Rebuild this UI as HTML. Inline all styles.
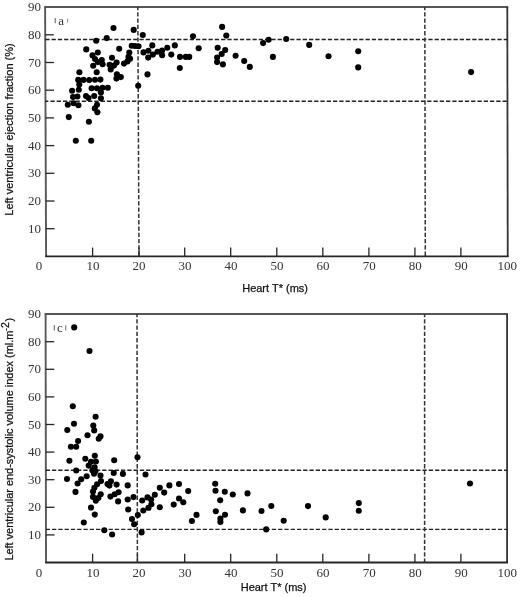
<!DOCTYPE html>
<html><head><meta charset="utf-8"><style>
html,body{margin:0;padding:0;background:#fff;}
body{width:520px;height:597px;overflow:hidden;}
svg{display:block;will-change:transform;}
.tk{font-family:"Liberation Serif",serif;font-size:13px;fill:#333;}
.at{font-family:"Liberation Sans",sans-serif;font-size:11px;fill:#111;stroke:#111;stroke-width:0.25px;}
.lb{font-family:"Liberation Serif",serif;font-size:13px;fill:#333;}
</style></head><body>
<svg width="520" height="597" viewBox="0 0 520 597">
<rect width="520" height="597" fill="#fff"/>

<line x1="44.2" y1="7.1" x2="508.2" y2="7.1" stroke="#555" stroke-width="2"/>
<line x1="45.1" y1="7.1" x2="46.1" y2="256.4" stroke="#585858" stroke-width="1.9"/>
<line x1="507.3" y1="7.1" x2="507.75" y2="256.4" stroke="#333" stroke-width="1.8"/>
<line x1="45.2" y1="256.4" x2="508.65" y2="256.4" stroke="#262626" stroke-width="1.8"/>
<line x1="45.99" y1="228.7" x2="54.59" y2="228.7" stroke="#262626" stroke-width="1.3"/>
<line x1="45.88" y1="201.0" x2="54.48" y2="201.0" stroke="#262626" stroke-width="1.3"/>
<line x1="45.77" y1="173.3" x2="54.37" y2="173.3" stroke="#262626" stroke-width="1.3"/>
<line x1="45.66" y1="145.6" x2="54.26" y2="145.6" stroke="#262626" stroke-width="1.3"/>
<line x1="45.54" y1="117.9" x2="54.14" y2="117.9" stroke="#262626" stroke-width="1.3"/>
<line x1="45.43" y1="90.2" x2="54.03" y2="90.2" stroke="#262626" stroke-width="1.3"/>
<line x1="45.32" y1="62.5" x2="53.92" y2="62.5" stroke="#262626" stroke-width="1.3"/>
<line x1="45.21" y1="34.8" x2="53.81" y2="34.8" stroke="#262626" stroke-width="1.3"/>
<line x1="92.6" y1="256.4" x2="92.6" y2="247.59999999999997" stroke="#262626" stroke-width="1.3"/>
<line x1="139.0" y1="256.4" x2="139.0" y2="247.59999999999997" stroke="#262626" stroke-width="1.3"/>
<line x1="184.7" y1="256.4" x2="184.7" y2="247.59999999999997" stroke="#262626" stroke-width="1.3"/>
<line x1="230.7" y1="256.4" x2="230.7" y2="247.59999999999997" stroke="#262626" stroke-width="1.3"/>
<line x1="276.8" y1="256.4" x2="276.8" y2="247.59999999999997" stroke="#262626" stroke-width="1.3"/>
<line x1="322.8" y1="256.4" x2="322.8" y2="247.59999999999997" stroke="#262626" stroke-width="1.3"/>
<line x1="368.9" y1="256.4" x2="368.9" y2="247.59999999999997" stroke="#262626" stroke-width="1.3"/>
<line x1="414.9" y1="256.4" x2="414.9" y2="247.59999999999997" stroke="#262626" stroke-width="1.3"/>
<line x1="460.9" y1="256.4" x2="460.9" y2="247.59999999999997" stroke="#262626" stroke-width="1.3"/>
<line x1="45.23" y1="39.5" x2="507.3" y2="39.5" stroke="#222" stroke-width="1.4" stroke-dasharray="4.3 1.98" stroke-dashoffset="0"/>
<line x1="45.48" y1="101.3" x2="507.3" y2="101.3" stroke="#222" stroke-width="1.4" stroke-dasharray="4.3 1.98" stroke-dashoffset="1.39"/>
<line x1="137.8" y1="7.1" x2="139.0" y2="256.4" stroke="#333" stroke-width="1.5" stroke-dasharray="4.3 2.0" stroke-dashoffset="1.2"/>
<line x1="424.8" y1="7.1" x2="425.3" y2="256.4" stroke="#333" stroke-width="1.5" stroke-dasharray="4.3 2.0" stroke-dashoffset="1.2"/>
<text x="41.0" y="232.7" text-anchor="end" class="tk">10</text>
<text x="41.0" y="205.0" text-anchor="end" class="tk">20</text>
<text x="41.0" y="177.3" text-anchor="end" class="tk">30</text>
<text x="41.0" y="149.6" text-anchor="end" class="tk">40</text>
<text x="41.0" y="121.9" text-anchor="end" class="tk">50</text>
<text x="41.0" y="94.2" text-anchor="end" class="tk">60</text>
<text x="41.0" y="66.5" text-anchor="end" class="tk">70</text>
<text x="41.0" y="38.8" text-anchor="end" class="tk">80</text>
<text x="41.0" y="11.1" text-anchor="end" class="tk">90</text>
<text x="39.1" y="270.4" text-anchor="middle" class="tk">0</text>
<text x="92.9" y="270.4" text-anchor="middle" class="tk">10</text>
<text x="139.0" y="270.4" text-anchor="middle" class="tk">20</text>
<text x="185.0" y="270.4" text-anchor="middle" class="tk">30</text>
<text x="231.0" y="270.4" text-anchor="middle" class="tk">40</text>
<text x="277.1" y="270.4" text-anchor="middle" class="tk">50</text>
<text x="323.1" y="270.4" text-anchor="middle" class="tk">60</text>
<text x="369.2" y="270.4" text-anchor="middle" class="tk">70</text>
<text x="415.2" y="270.4" text-anchor="middle" class="tk">80</text>
<text x="461.2" y="270.4" text-anchor="middle" class="tk">90</text>
<text x="507.3" y="270.4" text-anchor="middle" class="tk">100</text>
<circle cx="96.2" cy="40.8" r="3.05"/>
<circle cx="86.25" cy="49.4" r="3.05"/>
<circle cx="97.8" cy="52.5" r="3.05"/>
<circle cx="92.5" cy="55.4" r="3.05"/>
<circle cx="95.0" cy="59.0" r="3.05"/>
<circle cx="101.8" cy="60.0" r="3.05"/>
<circle cx="97.8" cy="62.1" r="3.05"/>
<circle cx="93.2" cy="65.8" r="3.05"/>
<circle cx="102.6" cy="64.3" r="3.05"/>
<circle cx="96.7" cy="72.2" r="3.05"/>
<circle cx="79.4" cy="72.2" r="3.05"/>
<circle cx="78.2" cy="79.9" r="3.05"/>
<circle cx="83.5" cy="79.9" r="3.05"/>
<circle cx="89.2" cy="80.0" r="3.05"/>
<circle cx="95.0" cy="79.8" r="3.05"/>
<circle cx="100.4" cy="79.6" r="3.05"/>
<circle cx="79.3" cy="84.5" r="3.05"/>
<circle cx="78.8" cy="89.8" r="3.05"/>
<circle cx="72.1" cy="90.8" r="3.05"/>
<circle cx="91.6" cy="88.3" r="3.05"/>
<circle cx="97.0" cy="88.3" r="3.05"/>
<circle cx="102.5" cy="87.7" r="3.05"/>
<circle cx="107.8" cy="87.7" r="3.05"/>
<circle cx="100.9" cy="92.4" r="3.05"/>
<circle cx="73.0" cy="97.0" r="3.05"/>
<circle cx="77.4" cy="96.5" r="3.05"/>
<circle cx="86.0" cy="96.0" r="3.05"/>
<circle cx="88.5" cy="98.0" r="3.05"/>
<circle cx="94.2" cy="96.0" r="3.05"/>
<circle cx="100.9" cy="98.2" r="3.05"/>
<circle cx="67.8" cy="104.7" r="3.05"/>
<circle cx="73.6" cy="103.3" r="3.05"/>
<circle cx="78.4" cy="105.2" r="3.05"/>
<circle cx="97.0" cy="104.8" r="3.05"/>
<circle cx="94.8" cy="108.4" r="3.05"/>
<circle cx="97.4" cy="112.2" r="3.05"/>
<circle cx="68.75" cy="117.1" r="3.05"/>
<circle cx="88.9" cy="121.7" r="3.05"/>
<circle cx="75.8" cy="140.7" r="3.05"/>
<circle cx="91.2" cy="140.7" r="3.05"/>
<circle cx="113.5" cy="28.0" r="3.05"/>
<circle cx="133.7" cy="29.9" r="3.05"/>
<circle cx="142.8" cy="35.0" r="3.05"/>
<circle cx="106.7" cy="38.1" r="3.05"/>
<circle cx="131.7" cy="45.8" r="3.05"/>
<circle cx="135.0" cy="46.0" r="3.05"/>
<circle cx="138.5" cy="46.3" r="3.05"/>
<circle cx="119.2" cy="48.7" r="3.05"/>
<circle cx="129.3" cy="52.5" r="3.05"/>
<circle cx="143.5" cy="52.4" r="3.05"/>
<circle cx="148.4" cy="50.8" r="3.05"/>
<circle cx="112.0" cy="57.8" r="3.05"/>
<circle cx="130.1" cy="58.8" r="3.05"/>
<circle cx="128.5" cy="56.9" r="3.05"/>
<circle cx="127.5" cy="61.4" r="3.05"/>
<circle cx="124.0" cy="63.6" r="3.05"/>
<circle cx="116.6" cy="62.6" r="3.05"/>
<circle cx="109.6" cy="64.8" r="3.05"/>
<circle cx="114.0" cy="65.6" r="3.05"/>
<circle cx="110.7" cy="69.4" r="3.05"/>
<circle cx="116.9" cy="74.2" r="3.05"/>
<circle cx="120.8" cy="77.1" r="3.05"/>
<circle cx="116.4" cy="78.6" r="3.05"/>
<circle cx="148.2" cy="57.6" r="3.05"/>
<circle cx="152.3" cy="45.4" r="3.05"/>
<circle cx="174.8" cy="45.4" r="3.05"/>
<circle cx="167.3" cy="47.7" r="3.05"/>
<circle cx="152.9" cy="54.6" r="3.05"/>
<circle cx="157.5" cy="51.7" r="3.05"/>
<circle cx="162.1" cy="50.6" r="3.05"/>
<circle cx="162.1" cy="55.2" r="3.05"/>
<circle cx="171.3" cy="54.6" r="3.05"/>
<circle cx="180.0" cy="56.9" r="3.05"/>
<circle cx="185.8" cy="56.9" r="3.05"/>
<circle cx="189.2" cy="56.9" r="3.05"/>
<circle cx="179.8" cy="68.0" r="3.05"/>
<circle cx="147.5" cy="74.4" r="3.05"/>
<circle cx="138.2" cy="85.8" r="3.05"/>
<circle cx="193.0" cy="36.2" r="3.05"/>
<circle cx="222.1" cy="26.9" r="3.05"/>
<circle cx="226.3" cy="35.6" r="3.05"/>
<circle cx="198.7" cy="48.3" r="3.05"/>
<circle cx="217.7" cy="47.7" r="3.05"/>
<circle cx="225.2" cy="50.0" r="3.05"/>
<circle cx="221.7" cy="54.0" r="3.05"/>
<circle cx="217.1" cy="57.5" r="3.05"/>
<circle cx="217.1" cy="62.1" r="3.05"/>
<circle cx="222.9" cy="64.4" r="3.05"/>
<circle cx="235.6" cy="55.8" r="3.05"/>
<circle cx="244.2" cy="61.0" r="3.05"/>
<circle cx="249.8" cy="66.9" r="3.05"/>
<circle cx="263.1" cy="43.1" r="3.05"/>
<circle cx="268.6" cy="39.8" r="3.05"/>
<circle cx="286.2" cy="39.0" r="3.05"/>
<circle cx="272.9" cy="56.9" r="3.05"/>
<circle cx="309.2" cy="44.9" r="3.05"/>
<circle cx="328.5" cy="56.2" r="3.05"/>
<circle cx="358.2" cy="51.2" r="3.05"/>
<circle cx="358.2" cy="67.4" r="3.05"/>
<circle cx="471.1" cy="72.1" r="3.05"/>
<line x1="44.7" y1="314.1" x2="508.0" y2="314.1" stroke="#555" stroke-width="2"/>
<line x1="45.6" y1="314.1" x2="46.0" y2="562.5" stroke="#585858" stroke-width="1.9"/>
<line x1="507.1" y1="314.1" x2="507.1" y2="562.5" stroke="#333" stroke-width="1.8"/>
<line x1="45.1" y1="562.5" x2="508.0" y2="562.5" stroke="#262626" stroke-width="1.8"/>
<line x1="45.96" y1="534.9" x2="54.56" y2="534.9" stroke="#262626" stroke-width="1.3"/>
<line x1="45.91" y1="507.3" x2="54.51" y2="507.3" stroke="#262626" stroke-width="1.3"/>
<line x1="45.87" y1="479.7" x2="54.47" y2="479.7" stroke="#262626" stroke-width="1.3"/>
<line x1="45.82" y1="452.1" x2="54.42" y2="452.1" stroke="#262626" stroke-width="1.3"/>
<line x1="45.78" y1="424.5" x2="54.38" y2="424.5" stroke="#262626" stroke-width="1.3"/>
<line x1="45.73" y1="396.9" x2="54.33" y2="396.9" stroke="#262626" stroke-width="1.3"/>
<line x1="45.69" y1="369.3" x2="54.29" y2="369.3" stroke="#262626" stroke-width="1.3"/>
<line x1="45.64" y1="341.7" x2="54.24" y2="341.7" stroke="#262626" stroke-width="1.3"/>
<line x1="92.6" y1="562.5" x2="92.6" y2="553.7" stroke="#262626" stroke-width="1.3"/>
<line x1="137.4" y1="562.5" x2="137.4" y2="553.7" stroke="#262626" stroke-width="1.3"/>
<line x1="184.7" y1="562.5" x2="184.7" y2="553.7" stroke="#262626" stroke-width="1.3"/>
<line x1="230.7" y1="562.5" x2="230.7" y2="553.7" stroke="#262626" stroke-width="1.3"/>
<line x1="276.8" y1="562.5" x2="276.8" y2="553.7" stroke="#262626" stroke-width="1.3"/>
<line x1="322.8" y1="562.5" x2="322.8" y2="553.7" stroke="#262626" stroke-width="1.3"/>
<line x1="368.9" y1="562.5" x2="368.9" y2="553.7" stroke="#262626" stroke-width="1.3"/>
<line x1="414.9" y1="562.5" x2="414.9" y2="553.7" stroke="#262626" stroke-width="1.3"/>
<line x1="460.9" y1="562.5" x2="460.9" y2="553.7" stroke="#262626" stroke-width="1.3"/>
<line x1="45.85" y1="470.3" x2="507.1" y2="470.3" stroke="#222" stroke-width="1.4" stroke-dasharray="4.3 1.98" stroke-dashoffset="0.2"/>
<line x1="45.95" y1="529.4" x2="507.1" y2="529.4" stroke="#222" stroke-width="1.4" stroke-dasharray="4.3 1.98" stroke-dashoffset="0.2"/>
<line x1="137.0" y1="314.1" x2="137.4" y2="562.5" stroke="#333" stroke-width="1.5" stroke-dasharray="4.3 2.0" stroke-dashoffset="1.2"/>
<line x1="424.6" y1="314.1" x2="424.6" y2="562.5" stroke="#333" stroke-width="1.5" stroke-dasharray="4.3 2.0" stroke-dashoffset="1.2"/>
<text x="41.0" y="538.9" text-anchor="end" class="tk">10</text>
<text x="41.0" y="511.3" text-anchor="end" class="tk">20</text>
<text x="41.0" y="483.7" text-anchor="end" class="tk">30</text>
<text x="41.0" y="456.1" text-anchor="end" class="tk">40</text>
<text x="41.0" y="428.5" text-anchor="end" class="tk">50</text>
<text x="41.0" y="400.9" text-anchor="end" class="tk">60</text>
<text x="41.0" y="373.3" text-anchor="end" class="tk">70</text>
<text x="41.0" y="345.7" text-anchor="end" class="tk">80</text>
<text x="41.0" y="318.1" text-anchor="end" class="tk">90</text>
<text x="39.1" y="577.2" text-anchor="middle" class="tk">0</text>
<text x="92.9" y="577.2" text-anchor="middle" class="tk">10</text>
<text x="139.0" y="577.2" text-anchor="middle" class="tk">20</text>
<text x="185.0" y="577.2" text-anchor="middle" class="tk">30</text>
<text x="231.0" y="577.2" text-anchor="middle" class="tk">40</text>
<text x="277.1" y="577.2" text-anchor="middle" class="tk">50</text>
<text x="323.1" y="577.2" text-anchor="middle" class="tk">60</text>
<text x="369.2" y="577.2" text-anchor="middle" class="tk">70</text>
<text x="415.2" y="577.2" text-anchor="middle" class="tk">80</text>
<text x="461.2" y="577.2" text-anchor="middle" class="tk">90</text>
<text x="507.3" y="577.2" text-anchor="middle" class="tk">100</text>
<circle cx="74.2" cy="327.4" r="3.05"/>
<circle cx="89.5" cy="351.0" r="3.05"/>
<circle cx="72.8" cy="406.3" r="3.05"/>
<circle cx="95.6" cy="416.7" r="3.05"/>
<circle cx="74.0" cy="423.8" r="3.05"/>
<circle cx="67.3" cy="430.0" r="3.05"/>
<circle cx="93.3" cy="425.6" r="3.05"/>
<circle cx="94.2" cy="430.4" r="3.05"/>
<circle cx="87.5" cy="435.2" r="3.05"/>
<circle cx="100.5" cy="436.4" r="3.05"/>
<circle cx="98.75" cy="438.7" r="3.05"/>
<circle cx="78.1" cy="441.0" r="3.05"/>
<circle cx="70.9" cy="446.8" r="3.05"/>
<circle cx="76.2" cy="446.8" r="3.05"/>
<circle cx="94.8" cy="455.8" r="3.05"/>
<circle cx="85.3" cy="458.8" r="3.05"/>
<circle cx="69.4" cy="460.8" r="3.05"/>
<circle cx="95.9" cy="461.5" r="3.05"/>
<circle cx="91.0" cy="461.7" r="3.05"/>
<circle cx="88.7" cy="465.6" r="3.05"/>
<circle cx="94.6" cy="467.3" r="3.05"/>
<circle cx="76.2" cy="470.5" r="3.05"/>
<circle cx="92.5" cy="470.4" r="3.05"/>
<circle cx="95.4" cy="471.3" r="3.05"/>
<circle cx="94.0" cy="473.8" r="3.05"/>
<circle cx="100.5" cy="475.5" r="3.05"/>
<circle cx="86.7" cy="476.2" r="3.05"/>
<circle cx="81.2" cy="479.3" r="3.05"/>
<circle cx="67.0" cy="479.0" r="3.05"/>
<circle cx="77.6" cy="483.5" r="3.05"/>
<circle cx="101.0" cy="481.0" r="3.05"/>
<circle cx="97.1" cy="484.2" r="3.05"/>
<circle cx="94.4" cy="487.8" r="3.05"/>
<circle cx="93.0" cy="491.6" r="3.05"/>
<circle cx="100.7" cy="494.3" r="3.05"/>
<circle cx="98.3" cy="498.0" r="3.05"/>
<circle cx="93.0" cy="496.9" r="3.05"/>
<circle cx="95.8" cy="500.8" r="3.05"/>
<circle cx="75.5" cy="491.9" r="3.05"/>
<circle cx="91.0" cy="507.5" r="3.05"/>
<circle cx="94.8" cy="514.6" r="3.05"/>
<circle cx="83.8" cy="522.5" r="3.05"/>
<circle cx="104.3" cy="530.2" r="3.05"/>
<circle cx="114.2" cy="460.2" r="3.05"/>
<circle cx="137.5" cy="457.3" r="3.05"/>
<circle cx="113.75" cy="473.0" r="3.05"/>
<circle cx="122.9" cy="473.9" r="3.05"/>
<circle cx="107.5" cy="484.1" r="3.05"/>
<circle cx="110.9" cy="481.3" r="3.05"/>
<circle cx="109.4" cy="485.6" r="3.05"/>
<circle cx="116.6" cy="484.6" r="3.05"/>
<circle cx="127.7" cy="485.4" r="3.05"/>
<circle cx="110.4" cy="496.6" r="3.05"/>
<circle cx="114.7" cy="494.2" r="3.05"/>
<circle cx="118.6" cy="492.3" r="3.05"/>
<circle cx="118.1" cy="501.4" r="3.05"/>
<circle cx="127.7" cy="499.5" r="3.05"/>
<circle cx="133.5" cy="497.1" r="3.05"/>
<circle cx="142.2" cy="500.5" r="3.05"/>
<circle cx="128.2" cy="509.5" r="3.05"/>
<circle cx="143.3" cy="510.5" r="3.05"/>
<circle cx="137.8" cy="515.1" r="3.05"/>
<circle cx="132.0" cy="519.1" r="3.05"/>
<circle cx="134.2" cy="524.2" r="3.05"/>
<circle cx="112.1" cy="534.5" r="3.05"/>
<circle cx="141.6" cy="532.4" r="3.05"/>
<circle cx="145.5" cy="474.5" r="3.05"/>
<circle cx="159.8" cy="487.7" r="3.05"/>
<circle cx="169.4" cy="485.4" r="3.05"/>
<circle cx="179.0" cy="484.0" r="3.05"/>
<circle cx="188.2" cy="491.0" r="3.05"/>
<circle cx="164.2" cy="492.6" r="3.05"/>
<circle cx="154.8" cy="494.8" r="3.05"/>
<circle cx="147.5" cy="497.4" r="3.05"/>
<circle cx="151.1" cy="499.5" r="3.05"/>
<circle cx="151.4" cy="504.2" r="3.05"/>
<circle cx="148.5" cy="507.8" r="3.05"/>
<circle cx="159.8" cy="507.2" r="3.05"/>
<circle cx="173.7" cy="504.6" r="3.05"/>
<circle cx="179.0" cy="498.5" r="3.05"/>
<circle cx="183.3" cy="502.3" r="3.05"/>
<circle cx="196.5" cy="514.9" r="3.05"/>
<circle cx="191.9" cy="521.0" r="3.05"/>
<circle cx="215.2" cy="483.8" r="3.05"/>
<circle cx="215.5" cy="490.8" r="3.05"/>
<circle cx="224.8" cy="491.7" r="3.05"/>
<circle cx="232.8" cy="494.5" r="3.05"/>
<circle cx="247.5" cy="493.4" r="3.05"/>
<circle cx="220.2" cy="500.2" r="3.05"/>
<circle cx="215.8" cy="511.3" r="3.05"/>
<circle cx="225.0" cy="514.8" r="3.05"/>
<circle cx="220.4" cy="518.5" r="3.05"/>
<circle cx="220.4" cy="521.9" r="3.05"/>
<circle cx="242.9" cy="510.4" r="3.05"/>
<circle cx="271.3" cy="506.0" r="3.05"/>
<circle cx="261.5" cy="511.0" r="3.05"/>
<circle cx="283.7" cy="520.8" r="3.05"/>
<circle cx="266.2" cy="529.4" r="3.05"/>
<circle cx="308.0" cy="506.1" r="3.05"/>
<circle cx="325.7" cy="517.4" r="3.05"/>
<circle cx="358.8" cy="503.1" r="3.05"/>
<circle cx="358.8" cy="510.8" r="3.05"/>
<circle cx="470.0" cy="483.5" r="3.05"/>
<line x1="55.2" y1="18" x2="55.2" y2="23.2" stroke="#666" stroke-width="1.1"/><text x="58.2" y="24.8" class="lb">a</text><line x1="67.6" y1="18.8" x2="67.6" y2="22.4" stroke="#888" stroke-width="1.1"/>
<line x1="54.3" y1="325" x2="54.3" y2="330.5" stroke="#666" stroke-width="1.1"/><text x="57" y="331.9" class="lb">c</text><line x1="65.7" y1="325.3" x2="65.7" y2="330.5" stroke="#777" stroke-width="1.1"/>
<text x="242.2" y="292.2" class="at">Heart T* (ms)</text>
<text x="240.7" y="591.3" class="at">Heart T* (ms)</text>
<text transform="translate(12.6,215.7) rotate(-90)" class="at">Left ventricular ejection fraction (%)</text>
<text transform="translate(12.7,560.6) rotate(-90)" class="at"><tspan textLength="199.6" lengthAdjust="spacing">Left ventricular end-systolic volume index</tspan> (ml.m<tspan dx="-0.6" dy="-3.3" font-size="9">-</tspan><tspan dy="0" font-size="10.5">2</tspan><tspan dx="0.8" dy="3.3">)</tspan></text>
</svg></body></html>
